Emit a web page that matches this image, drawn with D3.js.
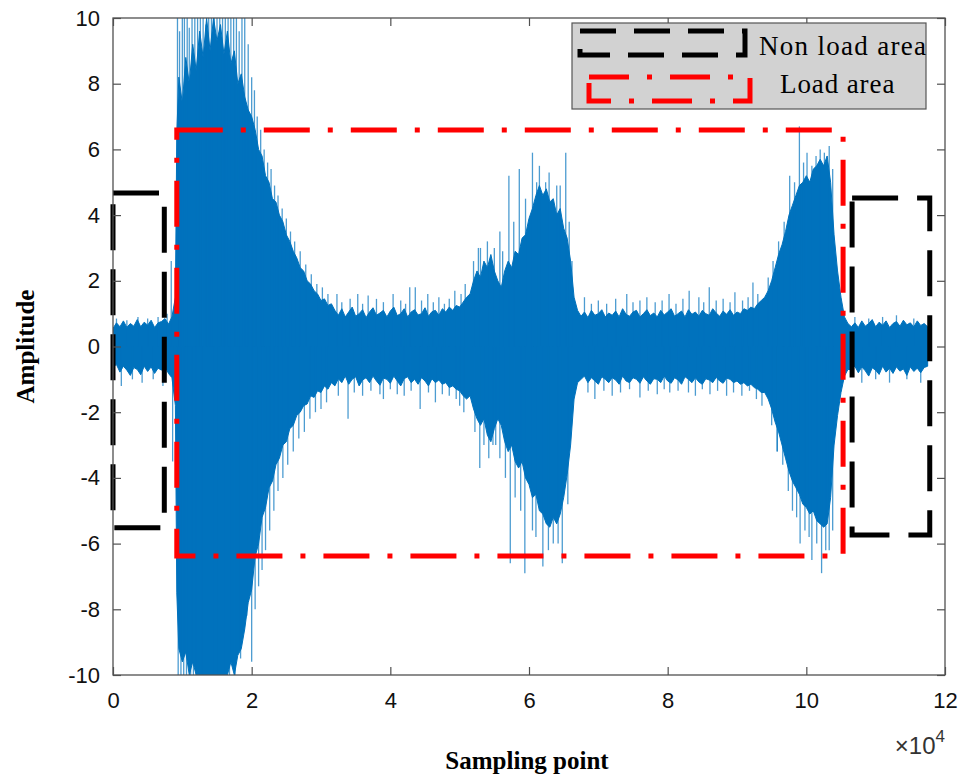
<!DOCTYPE html>
<html>
<head>
<meta charset="utf-8">
<script src="https://cdn.jsdelivr.net/npm/d3@7"></script>
<style>
  body { margin: 0; background: #fff; }
  svg { display: block; }
</style>
</head>
<body>
<div id="chart"></div>
<script>
// sampling point in units of 1e4; dense band of the waveform
const envX = [
  0.00,0.05,0.10,0.15,0.20,0.25,0.30,0.35,0.40,0.45,0.50,0.55,0.60,0.65,0.70,0.75,0.80,0.85,
  0.90,0.92,0.95,1.00,1.05,1.10,1.15,1.20,1.25,1.30,1.35,1.40,1.45,1.50,1.55,1.60,1.65,1.70,1.75,1.80,1.85,1.90,1.95,
  2.00,2.05,2.10,2.15,2.20,2.25,2.30,2.35,2.40,2.45,2.50,2.55,2.60,2.65,2.70,2.75,2.80,2.85,2.90,2.95,3.00,3.05,3.10,3.15,3.20,
  3.25,3.30,3.35,3.40,3.45,3.50,3.55,3.60,3.65,3.70,3.75,3.80,3.85,3.90,3.95,4.00,4.05,4.10,4.15,4.20,4.25,4.30,4.35,4.40,
  4.45,4.50,4.55,4.60,4.65,4.70,4.75,4.80,4.85,4.90,4.95,5.00,5.05,5.10,
  5.15,5.20,5.25,5.30,5.35,5.40,5.45,5.50,5.55,5.60,5.65,5.70,5.75,5.80,5.85,5.90,5.95,6.00,6.05,6.10,6.15,6.20,6.25,6.30,
  6.35,6.40,6.45,6.50,6.55,6.60,6.65,6.70,
  6.75,6.80,6.85,6.90,6.95,7.00,7.05,7.10,7.15,7.20,7.25,7.30,7.35,7.40,7.45,7.50,7.55,7.60,7.65,7.70,7.75,7.80,7.85,7.90,
  7.95,8.00,8.05,8.10,8.15,8.20,8.25,8.30,8.35,8.40,8.45,8.50,8.55,8.60,8.65,8.70,8.75,8.80,8.85,8.90,8.95,9.00,9.05,9.10,
  9.15,9.20,9.25,9.30,9.35,
  9.40,9.45,9.50,9.55,9.60,9.65,9.70,9.75,9.80,9.85,9.90,9.95,10.00,10.05,10.10,10.15,10.20,10.25,10.30,10.35,10.40,10.45,
  10.50,10.55,10.60,
  10.65,10.70,10.75,10.80,10.85,10.90,10.95,11.00,11.05,11.10,11.15,11.20,11.25,11.30,11.35,11.40,11.45,11.50,11.55,11.60,
  11.65,11.70,11.75];
const envTop = [
  0.55,0.72,0.6,0.78,0.58,0.7,0.62,0.82,0.6,0.74,0.65,0.8,0.58,0.72,0.76,0.85,0.68,0.9,
  1.5,6.5,8.2,7.4,8.8,8.0,9.2,8.4,9.6,8.8,10,9.0,10,9.3,9.8,8.9,9.6,8.6,9.0,8.0,8.3,7.6,7.2,
  7.0,6.6,6.0,5.8,5.2,5.0,4.5,4.4,4.0,3.8,3.4,3.2,2.9,2.7,2.4,2.3,2.0,1.9,1.7,1.6,1.4,1.45,1.25,1.3,1.1,
  0.95,1.15,0.9,1.05,1.2,0.92,1.0,1.12,0.88,1.05,1.18,0.95,1.02,1.1,0.9,1.08,1.2,0.94,1.0,1.15,0.9,1.05,1.12,0.96,
  1.0,1.18,0.92,1.06,1.1,0.95,1.15,1.05,1.2,1.1,1.25,1.2,1.35,1.5,
  1.6,2.0,2.3,2.1,2.6,2.4,2.8,2.3,2.0,1.8,2.3,2.6,2.4,2.9,2.8,3.3,3.4,3.9,4.2,4.6,4.9,4.6,4.8,4.4,
  4.5,4.0,4.2,3.6,3.3,2.6,1.5,1.1,
  0.92,1.05,0.88,1.1,0.95,1.0,1.12,0.9,1.02,0.95,1.08,0.9,1.15,0.98,0.92,1.05,1.1,0.9,1.0,1.12,0.94,1.02,0.9,1.1,
  0.96,1.05,1.15,0.92,1.0,1.08,0.9,1.12,0.98,1.05,0.92,1.1,1.0,0.95,1.15,1.02,0.92,1.08,0.98,1.12,0.95,1.05,1.0,1.15,
  1.1,1.2,1.15,1.3,1.4,
  1.5,1.7,2.0,2.4,2.8,3.1,3.5,4.0,4.3,4.6,4.9,5.0,5.2,5.0,5.4,5.5,5.7,5.5,5.8,5.0,3.4,2.3,
  1.5,0.9,0.7,
  0.6,0.72,0.58,0.78,0.62,0.7,0.82,0.6,0.74,0.65,0.78,0.58,0.7,0.76,0.62,0.8,0.66,0.72,0.6,0.78,
  0.64,0.7,0.6];
const envBot = [
  -0.62,-0.55,-0.78,-0.6,-0.72,-0.88,-0.64,-0.7,-0.86,-0.6,-0.76,-0.62,-0.82,-0.66,-0.72,-0.6,-0.82,-0.95,
  -1.8,-7.5,-9.2,-9.6,-9.3,-10,-9.6,-10,-10,-10,-10,-10,-10,-10,-10,-10,-10,-9.6,-10,-9.4,-9.2,-8.6,-7.8,
  -7.4,-6.4,-6.0,-5.2,-4.9,-4.3,-4.1,-3.6,-3.4,-3.0,-2.9,-2.5,-2.4,-2.1,-2.0,-1.8,-1.75,-1.5,-1.55,-1.35,-1.4,-1.2,-1.3,-1.1,-1.2,
  -0.98,-1.1,-0.9,-1.15,-1.0,-0.92,-1.2,-1.02,-0.95,-1.1,-0.9,-1.05,-1.18,-0.96,-1.0,-1.12,-0.9,-1.05,-1.2,-0.98,-0.92,-1.1,-1.0,-1.15,
  -0.95,-1.05,-1.2,-0.98,-1.1,-1.02,-1.15,-1.1,-1.25,-1.2,-1.3,-1.35,-1.5,-1.6,
  -1.5,-1.9,-2.2,-2.4,-2.2,-2.7,-2.9,-2.5,-2.2,-2.4,-2.9,-3.2,-3.0,-3.5,-3.7,-3.5,-4.0,-4.2,-4.6,-4.5,-5.0,-5.1,-5.4,-5.5,
  -5.2,-5.4,-5.1,-4.6,-3.9,-3.0,-1.6,-1.1,
  -1.0,-0.9,-1.1,-0.95,-1.05,-1.15,-0.92,-1.0,-1.1,-0.95,-1.02,-1.15,-0.9,-1.05,-1.1,-0.95,-1.0,-1.12,-0.92,-1.05,-1.15,-0.98,-1.0,-1.1,
  -0.9,-1.05,-1.12,-0.95,-1.02,-1.15,-0.92,-1.0,-1.1,-0.95,-1.08,-1.15,-0.98,-1.02,-1.1,-0.94,-1.05,-1.12,-0.96,-1.0,-1.1,-1.05,-1.15,-1.1,
  -1.2,-1.15,-1.25,-1.3,-1.4,
  -1.4,-1.6,-1.9,-2.3,-2.6,-3.0,-3.4,-3.8,-4.1,-4.3,-4.5,-4.8,-4.9,-5.1,-5.0,-5.3,-5.4,-5.5,-5.4,-4.6,-3.0,-2.1,
  -1.4,-0.9,-0.7,
  -0.7,-0.6,-0.8,-0.62,-0.74,-0.9,-0.65,-0.72,-0.85,-0.6,-0.78,-0.66,-0.82,-0.62,-0.75,-0.68,-0.88,-0.62,-0.76,-0.66,
  -0.8,-0.64,-0.6];

// isolated peaks sticking out of the dense band (position, peak value)
const spikeX = [
  0.05,0.12,0.20,0.28,0.36,0.42,0.50,0.58,0.65,0.72,0.78,0.84,0.86,
  0.93,0.96,1.00,1.03,1.07,1.10,1.14,1.18,1.22,1.26,1.30,1.34,1.38,1.42,1.46,1.50,1.54,1.58,1.62,1.66,1.70,1.74,1.78,1.82,1.86,1.90,1.95,
  2.00,2.04,2.08,2.13,2.18,2.23,2.28,2.33,2.38,2.44,2.50,2.56,2.62,2.70,2.78,2.86,2.94,3.02,3.10,
  0.94,0.98,1.02,1.06,1.12,1.16,1.20,1.28,1.36,1.44,1.52,1.60,1.68,1.76,1.84,1.93,
  2.00,2.05,2.10,2.15,2.20,2.26,2.32,2.38,2.45,2.52,2.60,2.68,2.76,2.84,2.92,3.00,3.08,
  3.23,3.30,3.42,3.53,3.60,3.68,3.80,3.90,4.04,4.15,4.22,4.28,4.36,4.45,4.54,4.62,4.70,4.78,4.85,4.93,5.02,5.08,
  3.25,3.39,3.48,3.60,3.72,3.85,3.90,4.00,4.10,4.20,4.30,4.43,4.55,4.65,4.75,4.85,4.95,5.00,5.06,
  5.20,5.27,5.30,5.40,5.50,5.58,5.62,5.71,5.78,5.86,5.95,6.05,6.11,6.15,6.24,6.29,6.40,6.45,6.53,6.58,6.62,
  5.22,5.29,5.35,5.42,5.48,5.52,5.58,5.66,5.73,5.80,5.88,5.94,6.05,6.10,6.20,6.28,6.35,6.42,6.48,6.56,
  6.80,6.90,7.00,7.12,7.25,7.41,7.50,7.60,7.70,7.82,7.92,8.02,8.12,8.22,8.31,8.45,8.52,8.60,8.70,8.80,8.90,8.97,9.08,9.16,9.23,9.30,
  6.85,6.95,7.08,7.20,7.32,7.45,7.60,7.72,7.85,7.95,8.03,8.15,8.30,8.40,8.50,8.61,8.72,8.85,8.95,9.07,9.18,9.28,9.36,9.58,
  9.45,9.52,9.60,9.68,9.76,9.83,9.90,9.96,10.01,10.08,10.14,10.20,10.26,10.33,10.38,
  9.50,9.58,9.66,9.74,9.80,9.86,9.91,9.98,10.04,10.08,10.15,10.22,10.28,10.33,10.38,
  10.70,10.80,10.90,11.00,11.10,11.20,11.30,11.45,11.55,11.65];
const spikeVal = [
  0.85,-1.2,0.8,-1.0,0.9,-1.1,0.85,-1.0,0.9,-1.2,1.0,2.6,-3.5,
  10,9.6,10,10,10,9.7,10,10,10,10,10,9.8,10,10,10,10,10,10,10,10,10,10,10,9.6,10,10,9.2,
  8.2,7.8,7.0,6.6,6.0,5.6,5.4,4.9,4.6,4.2,3.9,3.5,3.2,2.9,2.5,2.2,1.9,1.8,1.6,
  -10,-10,-10,-10,-10,-10,-10,-10,-10,-10,-10,-10,-10,-10,-9.5,-8.2,
  -9.6,-8.0,-7.3,-6.8,-6.2,-5.6,-5.0,-4.4,-4.0,-3.6,-3.2,-2.8,-2.6,-2.2,-2.0,-1.9,-1.7,
  1.6,1.35,1.45,1.6,1.3,1.55,1.45,1.35,1.6,1.4,1.3,1.8,1.8,1.4,1.6,1.35,1.5,1.3,1.45,1.7,1.6,1.9,
  -1.5,-2.2,-1.4,-1.5,-1.35,-1.45,-1.6,-1.3,-1.45,-1.5,-1.35,-1.9,-1.4,-1.7,-1.45,-1.5,-1.6,-1.8,-2.0,
  2.6,3.0,3.0,3.2,3.0,3.5,2.9,5.2,3.8,5.4,4.5,5.9,5.0,5.5,5.0,5.3,4.9,4.9,5.9,3.8,2.6,
  -2.6,-3.7,-3.0,-3.4,-3.0,-3.0,-3.4,-4.0,-6.6,-4.6,-5.0,-6.9,-5.6,-5.8,-6.7,-6.2,-6.0,-6.0,-6.6,-4.8,
  1.5,1.3,1.4,1.3,1.45,1.6,1.35,1.4,1.5,1.35,1.4,1.6,1.3,1.45,1.7,1.5,1.35,1.8,1.4,1.45,1.35,1.65,1.4,1.5,1.95,1.6,
  -1.4,-1.6,-1.35,-1.5,-1.4,-1.3,-1.55,-1.35,-1.45,-1.3,-1.4,-1.35,-1.4,-1.5,-1.3,-1.45,-1.35,-1.5,-1.4,-1.5,-1.35,-1.6,-1.8,-3.2,
  2.1,2.6,3.2,3.8,5.2,5.0,6.7,5.6,5.9,5.5,5.8,6.0,5.9,6.1,5.4,
  -2.4,-3.2,-3.6,-4.4,-5.0,-5.2,-6.0,-5.6,-5.8,-6.5,-6.0,-6.9,-6.2,-6.2,-5.6,
  0.9,-1.1,0.85,-1.0,0.9,-1.1,0.95,-1.0,0.85,-1.1];

const xTicks = [0, 2, 4, 6, 8, 10, 12];
const yTicks = [-10, -8, -6, -4, -2, 0, 2, 4, 6, 8, 10];

// annotation rectangles (x in 1e4, amplitude)
const nonLoadBoxes = [
  { x0: 0.0, x1: 0.74, y0: -5.52, y1: 4.67 },
  { x0: 10.66, x1: 11.78, y0: -5.74, y1: 4.52 }
];
const loadBoxes = [
  { x0: 0.92, x1: 10.53, y0: -6.38, y1: 6.59 }
];
const legendLabels = ['Non load area', 'Load area'];

const W = 961, H = 780;
const margin = { top: 18, right: 16, bottom: 105, left: 113 };
const innerW = W - margin.left - margin.right;
const innerH = H - margin.top - margin.bottom;

const blue = '#0072BD';
const axisColor = '#505050';
const tickFont = '"Liberation Sans", Arial, sans-serif';
const serif = '"Liberation Serif", "Times New Roman", serif';

const svg = d3.select('#chart').append('svg')
  .attr('width', W).attr('height', H)
  .style('background', '#fff');

const g = svg.append('g').attr('transform', `translate(${margin.left},${margin.top})`);

const x = d3.scaleLinear().domain([0, 12]).range([0, innerW]);
const y = d3.scaleLinear().domain([-10, 10]).range([innerH, 0]);

svg.append('defs').append('clipPath').attr('id', 'plotClip')
  .append('rect').attr('width', innerW).attr('height', innerH);

const plot = g.append('g').attr('clip-path', 'url(#plotClip)');

// dense band of the signal
const env = envX.map((d, i) => ({ x: d, top: envTop[i], bot: envBot[i] }));
plot.append('path')
  .datum(env)
  .attr('d', d3.area().x(d => x(d.x)).y0(d => y(d.bot)).y1(d => y(d.top)))
  .attr('fill', blue)
  .attr('stroke', blue)
  .attr('stroke-width', 1);

// spikes
const spikes = spikeX.map((d, i) => ({ x: d, v: spikeVal[i] }));
plot.selectAll('.spike')
  .data(spikes)
  .enter().append('line')
  .attr('class', 'spike')
  .attr('x1', d => x(d.x)).attr('x2', d => x(d.x))
  .attr('y1', y(0)).attr('y2', d => y(d.v))
  .attr('stroke', blue)
  .attr('stroke-width', 1.3)
  .attr('stroke-opacity', 0.7);

// annotation boxes
const boxLayer = g.append('g');
boxLayer.selectAll('.nonload')
  .data(nonLoadBoxes)
  .enter().append('rect')
  .attr('x', d => x(d.x0)).attr('y', d => y(d.y1))
  .attr('width', d => x(d.x1) - x(d.x0))
  .attr('height', d => y(d.y0) - y(d.y1))
  .attr('fill', 'none')
  .attr('stroke', '#000')
  .attr('stroke-width', 5)
  .attr('stroke-dasharray', '46,19');

boxLayer.selectAll('.load')
  .data(loadBoxes)
  .enter().append('rect')
  .attr('x', d => x(d.x0)).attr('y', d => y(d.y1))
  .attr('width', d => x(d.x1) - x(d.x0))
  .attr('height', d => y(d.y0) - y(d.y1))
  .attr('fill', 'none')
  .attr('stroke', '#ff0000')
  .attr('stroke-width', 5)
  .attr('stroke-dasharray', '46,18,5,18');

// Axes (ticks point inward on all four sides)
const fmt = d => String(d);
const axL = g.append('g')
  .call(d3.axisLeft(y).tickValues(yTicks).tickSize(-8).tickPadding(13).tickFormat(fmt));
const axB = g.append('g').attr('transform', `translate(0,${innerH})`)
  .call(d3.axisBottom(x).tickValues(xTicks).tickSize(-8).tickPadding(17).tickFormat(fmt));
const axR = g.append('g').attr('transform', `translate(${innerW},0)`)
  .call(d3.axisRight(y).tickValues(yTicks).tickSize(-8).tickFormat(''));
const axT = g.append('g')
  .call(d3.axisTop(x).tickValues(xTicks).tickSize(-8).tickFormat(''));

[axL, axB, axR, axT].forEach(a => {
  a.select('.domain').remove();
  a.selectAll('line').attr('stroke', axisColor).attr('stroke-width', 1.2);
  a.selectAll('text').style('font-family', tickFont).style('font-size', '22px').attr('fill', '#111');
});

g.append('rect')
  .attr('width', innerW).attr('height', innerH)
  .attr('fill', 'none')
  .attr('stroke', axisColor)
  .attr('stroke-width', 1.3);

// exponent label
const expo = g.append('text')
  .attr('x', innerW).attr('y', innerH + 79)
  .attr('text-anchor', 'end')
  .style('font-family', tickFont).style('font-size', '24px')
  .attr('fill', '#333');
expo.append('tspan').text('\u00D710');
expo.append('tspan').attr('dy', -12).style('font-size', '17px').text('4');

// axis titles
svg.append('text')
  .attr('x', margin.left + innerW / 2 - 2).attr('y', 769)
  .attr('text-anchor', 'middle')
  .style('font-family', serif).style('font-weight', 'bold').style('font-size', '25px')
  .text('Sampling point');

svg.append('text')
  .attr('transform', `translate(34,${margin.top + innerH / 2}) rotate(-90)`)
  .attr('text-anchor', 'middle')
  .style('font-family', serif).style('font-weight', 'bold').style('font-size', '25px')
  .text('Amplitude');

// legend
const leg = svg.append('g');
leg.append('rect')
  .attr('x', 572).attr('y', 23).attr('width', 354).attr('height', 86)
  .attr('fill', '#d2d2d2').attr('stroke', '#555').attr('stroke-width', 1.2);

leg.append('rect')
  .attr('x', 580).attr('y', 31).attr('width', 165).attr('height', 24)
  .attr('fill', 'none').attr('stroke', '#000').attr('stroke-width', 5)
  .attr('stroke-dasharray', '36,18');
leg.append('rect')
  .attr('x', 589).attr('y', 77).attr('width', 161).attr('height', 24)
  .attr('fill', 'none').attr('stroke', '#ff0000').attr('stroke-width', 5)
  .attr('stroke-dasharray', '40,18,5,18');

leg.selectAll('.leg-label')
  .data(legendLabels)
  .enter().append('text')
  .attr('x', (d, i) => i === 0 ? 759 : 780)
  .attr('y', (d, i) => i === 0 ? 55 : 93)
  .style('font-family', serif).style('font-size', '27px')
  .style('letter-spacing', (d, i) => i === 0 ? '1.3px' : '0.9px')
  .attr('fill', '#000')
  .text(d => d);
</script>
</body>
</html>
